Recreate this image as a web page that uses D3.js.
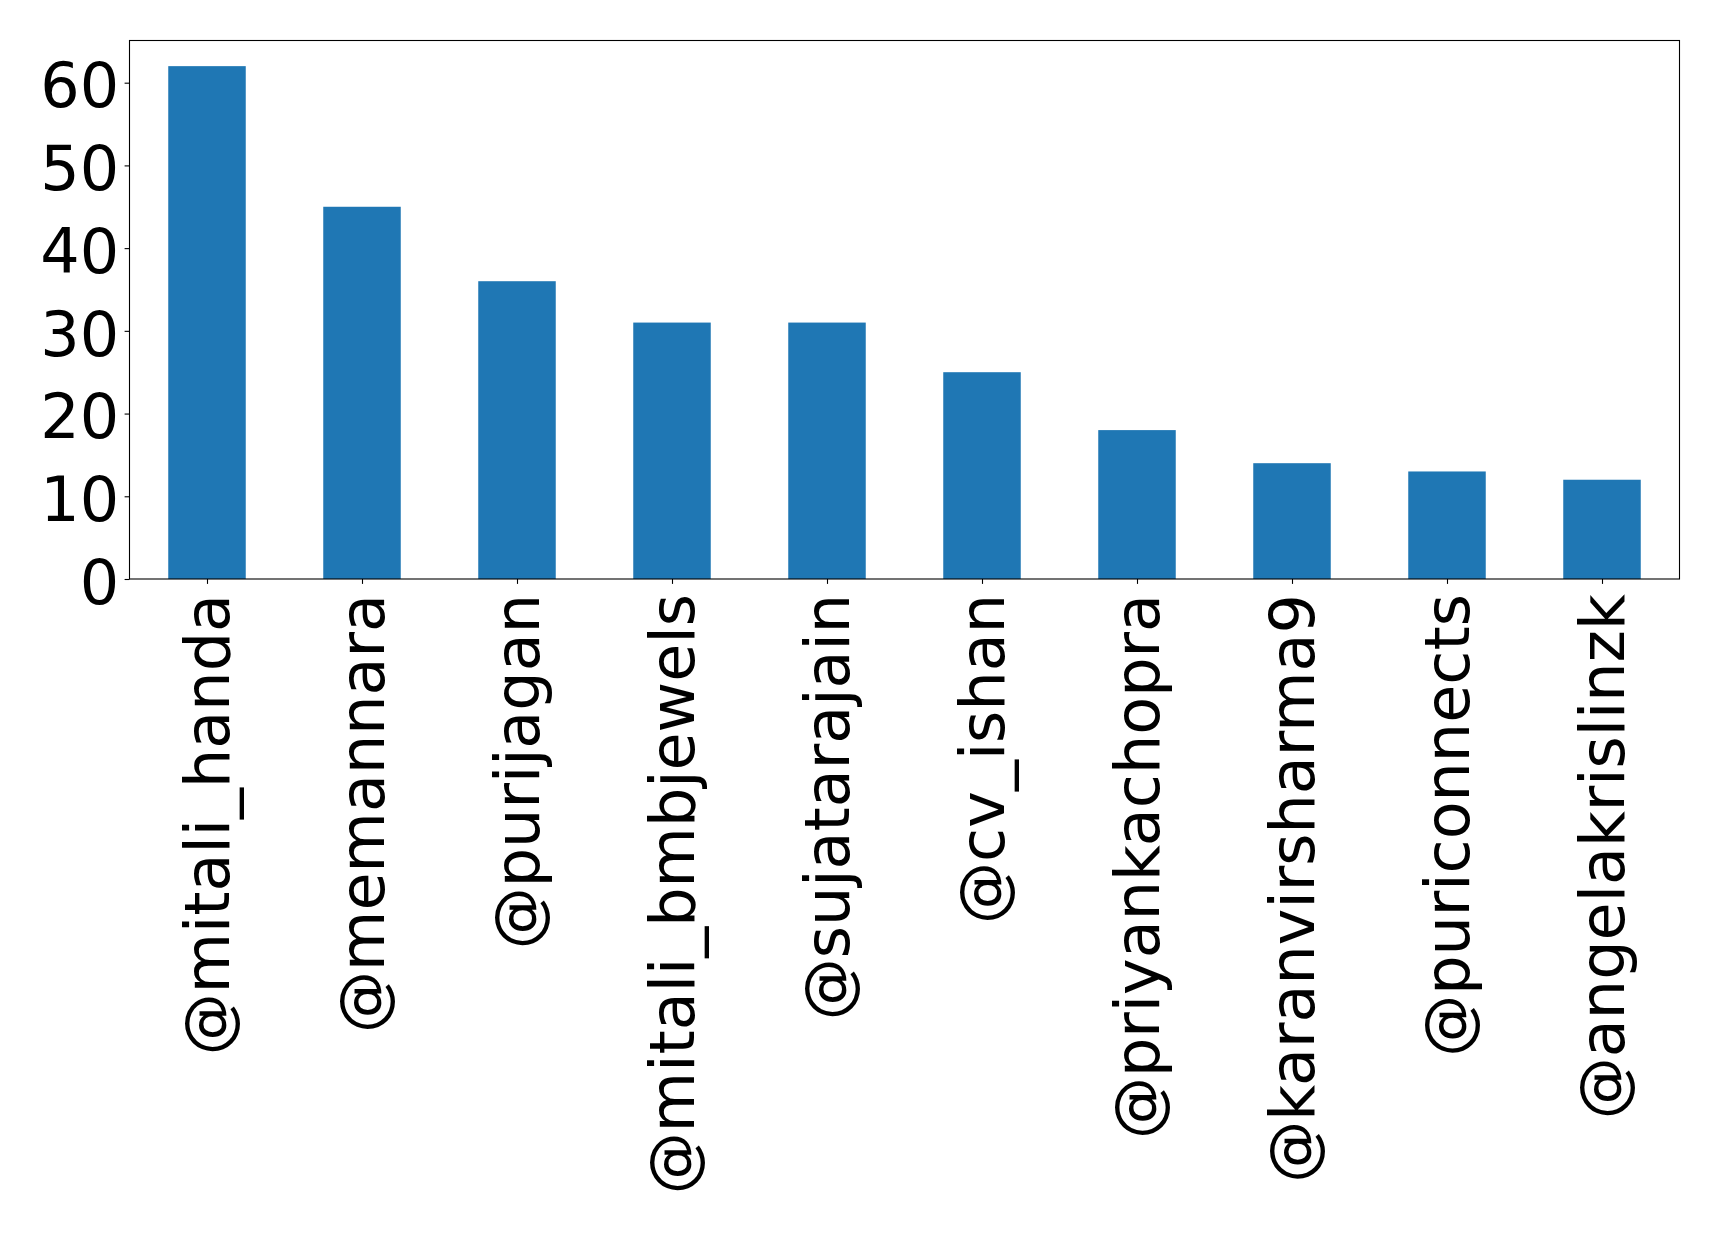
<!DOCTYPE html>
<html><head><meta charset="utf-8">
<script src="https://cdn.jsdelivr.net/npm/d3@7"></script>
<style>body{margin:0;background:#fff;} text{font-family:"DejaVu Sans",sans-serif;}</style>
</head><body>
<svg id="c" width="1719" height="1233"></svg>
<script>
const categories = ["@mitali_handa","@memannara","@purijagan","@mitali_bmbjewels","@sujatarajain","@cv_ishan","@priyankachopra","@karanvirsharma9","@puriconnects","@angelakrislinzk"];
const values = [62,45,36,31,31,25,18,14,13,12];
const yTicks = [0,10,20,30,40,50,60];

const svg = d3.select("#c");
const L = 129.5, R = 1679.5, T = 40.5, B = 579;
const fs = 62;
const x = d3.scaleLinear().domain([-0.5, categories.length - 0.5]).range([L, R]);
const y = d3.scaleLinear().domain([0, d3.max(values) * 1.05]).range([B, T]);

svg.append("g").selectAll("rect").data(values).join("rect")
  .attr("x", (d,i) => x(i - 0.25)).attr("width", (d,i) => x(i + 0.25) - x(i - 0.25))
  .attr("y", d => y(d)).attr("height", d => B - y(d))
  .attr("fill", "#1f77b4");

const yAxis = d3.axisLeft(y).tickValues(yTicks).tickSize(4.9).tickPadding(5.5).tickFormat(d3.format("d"));
const gy = svg.append("g").attr("transform", `translate(${L},0)`).call(yAxis);
gy.select(".domain").remove();
gy.selectAll("line").attr("stroke", "#000").attr("stroke-width", 1.1);
gy.selectAll("text").attr("font-size", fs).attr("font-family", "DejaVu Sans").attr("fill", "#000").attr("dy", "0.39em");

const xAxis = d3.axisBottom(x).tickValues(d3.range(categories.length)).tickSize(4.9).tickFormat(i => categories[i]);
const gx = svg.append("g").attr("transform", `translate(0,${B})`).call(xAxis);
gx.select(".domain").remove();
gx.selectAll("line").attr("stroke", "#000").attr("stroke-width", 1.1);
gx.selectAll("text").attr("font-size", fs).attr("font-family", "DejaVu Sans").attr("fill", "#000")
  .attr("text-anchor", "end").attr("y", 0).attr("dy", "0.35em")
  .attr("transform", "translate(0,15) rotate(-90)").attr("x", 0);

svg.append("rect").attr("x", L).attr("y", T).attr("width", R - L).attr("height", B - T)
  .attr("fill", "none").attr("stroke", "#000").attr("stroke-width", 1.1);
</script>
</body></html>
